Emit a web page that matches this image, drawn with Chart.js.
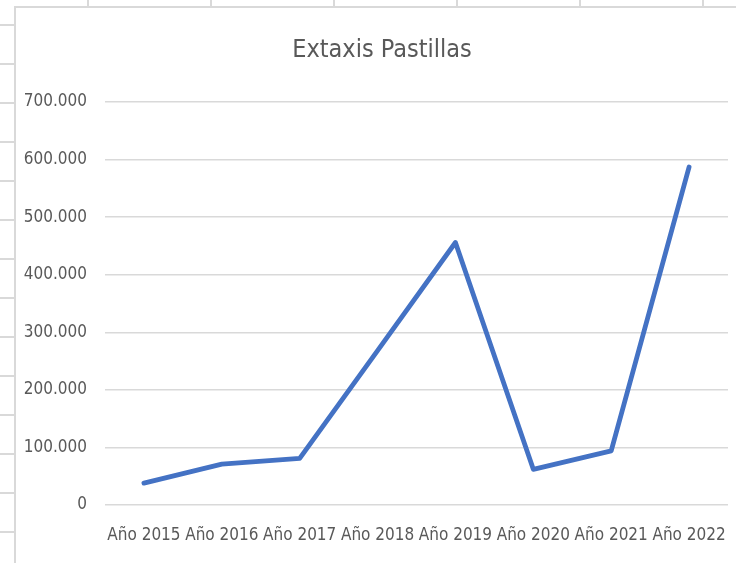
<!DOCTYPE html>
<html>
<head>
<meta charset="utf-8">
<script src="https://cdn.jsdelivr.net/npm/chart.js@4"></script>
<style>
  html, body { margin: 0; padding: 0; }
  body {
    width: 736px; height: 563px; overflow: hidden; position: relative;
    background: #ffffff;
  }
  #cellsTop {
    position: absolute; left: 0; top: 0; width: 736px; height: 6px;
    background: repeating-linear-gradient(to right, transparent 0px, transparent 87px, #d9d9d9 87px, #d9d9d9 89px, transparent 89px, transparent 123px);
  }
  #cellsLeft {
    position: absolute; left: 0; top: 0; width: 14px; height: 563px;
    background: repeating-linear-gradient(to bottom, transparent 0px, transparent 24px, #d9d9d9 24px, #d9d9d9 26px, transparent 26px, transparent 39px);
  }
  #box {
    position: absolute; left: 14px; top: 6px; width: 720px; height: 555px;
    border-left: 2px solid #d9d9d9; border-top: 2px solid #d9d9d9;
    background: #ffffff;
  }
  canvas { display: block; }
</style>
</head>
<body>
<div id="cellsTop"></div>
<div id="cellsLeft"></div>
<div id="box"><canvas id="c" width="720" height="555"></canvas></div>
<script>
const categories = ["Año 2015", "Año 2016", "Año 2017", "Año 2018", "Año 2019", "Año 2020", "Año 2021", "Año 2022"];
const values = [38000, 71000, 81000, 268000, 456000, 62000, 94000, 587000];
const yTicks = [0, 100000, 200000, 300000, 400000, 500000, 600000, 700000];
const titleText = "Extaxis Pastillas";

const FONT = "'DejaVu Sans Condensed', 'DejaVu Sans', sans-serif";
const TEXT = "#595959";

function fmt(v) {
  return String(v).replace(/\B(?=(\d{3})+(?!\d))/g, ".");
}

const titleShift = {
  id: "titleShift",
  afterLayout(chart) {
    if (chart.titleBlock) { chart.titleBlock.left += 20; }
  }
};

new Chart(document.getElementById("c"), {
  type: "line",
  data: {
    labels: categories,
    datasets: [{
      data: values,
      borderColor: "#4472C4",
      backgroundColor: "#4472C4",
      borderWidth: 4.8,
      pointRadius: 0,
      tension: 0,
      borderJoinStyle: "round",
      borderCapStyle: "round",
      fill: false
    }]
  },
  plugins: [titleShift],
  options: {
    responsive: false,
    animation: false,
    layout: { padding: { left: 0, right: 8, top: 0, bottom: 18 } },
    plugins: {
      legend: { display: false },
      tooltip: { enabled: false },
      title: {
        display: true,
        text: titleText,
        color: TEXT,
        font: { family: FONT, size: 25, weight: "normal", lineHeight: 1.2 },
        padding: { top: 27, bottom: 37 }
      }
    },
    scales: {
      x: {
        offset: true,
        grid: { display: false, drawTicks: false },
        border: { display: false },
        ticks: {
          color: TEXT, padding: 20, maxRotation: 0, autoSkip: false,
          font: { family: FONT, size: 17, lineHeight: 1.2 }
        },
        afterFit: (s) => { s.height = 40; s.paddingLeft = 0; s.paddingRight = 0; }
      },
      y: {
        min: 0, max: 700000,
        afterBuildTicks: (s) => { s.ticks = yTicks.map(v => ({ value: v })); },
        grid: { color: "#d9d9d9", lineWidth: 1.5, drawTicks: false },
        border: { display: false },
        ticks: {
          color: TEXT, padding: 18,
          font: { family: FONT, size: 17, lineHeight: 1.2 },
          callback: (v) => fmt(v)
        },
        afterFit: (s) => { s.width = 89; }
      }
    }
  }
});
</script>
</body>
</html>
